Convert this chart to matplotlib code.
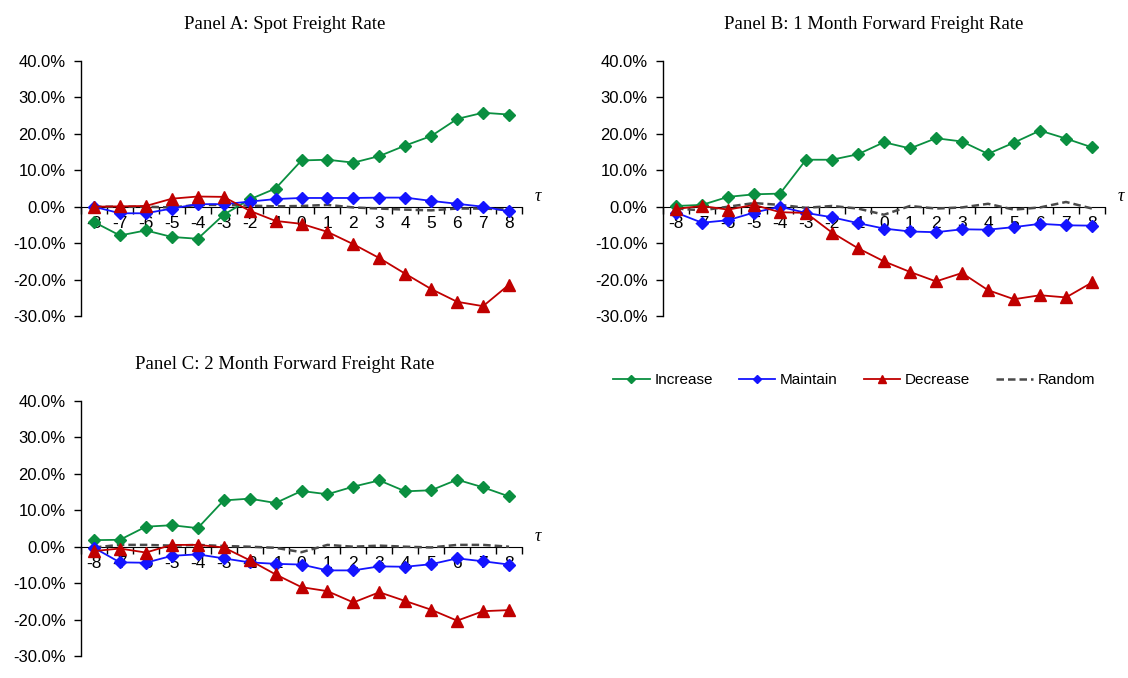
import matplotlib
matplotlib.use("Agg")
import matplotlib.pyplot as plt
from matplotlib.ticker import FixedLocator, PercentFormatter

# event window
tau = list(range(-8, 9))
tau_labels = [str(t) for t in tau]

# Panel A: spot freight rate (%)
spot_increase = [-4.2, -7.9, -6.5, -8.3, -8.8, -2.2, 2.0, 5.0, 12.7, 12.9, 12.1, 13.9, 16.8, 19.4, 24.1, 25.8, 25.3]
spot_maintain = [0.0, -1.8, -1.8, -0.5, 0.7, 0.7, 1.4, 2.1, 2.4, 2.4, 2.4, 2.5, 2.5, 1.6, 0.8, 0.0, -1.3]
spot_decrease = [0.0, 0.1, 0.2, 2.2, 2.8, 2.7, -1.1, -3.9, -4.7, -6.9, -10.3, -14.1, -18.4, -22.6, -26.1, -27.3, -21.4]
spot_random = [0.0, 0.0, 0.0, -0.2, 0.5, 0.5, 0.3, 0.1, 0.2, 0.5, -0.2, -0.5, -0.8, -1.0, -0.5, -0.5, -0.8]

# Panel B: 1 month forward freight rate (%)
fwd1_increase = [0.2, 0.5, 2.7, 3.4, 3.6, 12.9, 12.9, 14.4, 17.7, 16.0, 18.8, 17.9, 14.5, 17.6, 20.9, 18.7, 16.3]
fwd1_maintain = [-1.6, -4.4, -3.7, -1.6, 0.0, -1.7, -2.9, -4.5, -6.0, -6.8, -7.0, -6.2, -6.3, -5.6, -4.7, -5.1, -5.2]
fwd1_decrease = [-0.6, 0.2, -0.8, 0.5, -1.5, -1.7, -7.1, -11.4, -15.0, -17.9, -20.5, -18.2, -22.9, -25.4, -24.3, -24.9, -20.8]
fwd1_random = [-0.5, -1.0, 0.0, 1.0, 0.5, -0.3, 0.2, -0.5, -2.2, 0.2, -0.5, -0.2, 0.8, -0.8, -0.2, 1.3, -0.5]

# Panel C: 2 month forward freight rate (%)
fwd2_increase = [1.8, 1.9, 5.5, 5.9, 5.1, 12.7, 13.2, 12.0, 15.3, 14.4, 16.5, 18.2, 15.2, 15.5, 18.4, 16.3, 13.8]
fwd2_maintain = [-0.3, -4.3, -4.4, -2.5, -2.1, -3.2, -4.3, -4.7, -4.9, -6.5, -6.5, -5.4, -5.5, -4.8, -3.2, -4.0, -4.9]
fwd2_decrease = [-1.2, -0.5, -1.6, 0.5, 0.5, -0.2, -3.7, -7.6, -11.1, -12.2, -15.3, -12.5, -14.9, -17.3, -20.3, -17.7, -17.4]
fwd2_random = [-0.2, 0.5, 0.5, 0.3, 0.5, 0.2, 0.0, -0.3, -1.5, 0.5, 0.0, 0.3, 0.0, -0.2, 0.5, 0.5, 0.0]

titles = ["Panel A: Spot Freight Rate",
          "Panel B: 1 Month Forward Freight Rate",
          "Panel C: 2 Month Forward Freight Rate"]
panels = [
    (spot_increase, spot_maintain, spot_decrease, spot_random),
    (fwd1_increase, fwd1_maintain, fwd1_decrease, fwd1_random),
    (fwd2_increase, fwd2_maintain, fwd2_decrease, fwd2_random),
]

GREEN = "#0a8f40"
BLUE = "#1414ff"
RED = "#c00000"
GREY = "#4a4a4a"

plt.rcParams["font.family"] = ["Liberation Sans", "DejaVu Sans"]
plt.rcParams["axes.unicode_minus"] = False

W, H = 1128, 678
fig = plt.figure(figsize=(W / 100, H / 100), dpi=100)

# axes boxes in pixels: (left, right, top, bottom) and title centre x
boxes = [(81, 522, 61, 316), (663, 1105, 61, 316), (81, 522, 401, 656)]
title_x = [285, 874, 285]

for box, tx, title, data in zip(boxes, title_x, titles, panels):
    l, r, t, b = box
    ax = fig.add_axes([l / W, 1 - b / H, (r - l) / W, (b - t) / H])
    inc, mai, dec, rnd = data

    ax.plot(tau, rnd, color=GREY, lw=1.8, ls=(0, (3, 1.6)), label="Random", zorder=2)
    ax.plot(tau, inc, color=GREEN, lw=1.3, marker="D", ms=6, label="Increase", zorder=3)
    ax.plot(tau, mai, color=BLUE, lw=1.3, marker="D", ms=6, label="Maintain", zorder=3)
    ax.plot(tau, dec, color=RED, lw=1.3, marker="^", ms=8.5, label="Decrease", zorder=3)

    ax.set_xlim(-8.5, 8.5)
    ax.set_ylim(-30, 40)

    for s in ["top", "right"]:
        ax.spines[s].set_visible(False)
    ax.spines["bottom"].set_position(("data", 0))
    ax.spines["bottom"].set_zorder(1)
    ax.spines["left"].set_linewidth(1.0)

    # ticks between categories, labels on the categories
    ax.xaxis.set_major_locator(FixedLocator([t + 0.5 for t in range(-9, 9)]))
    ax.xaxis.set_minor_locator(FixedLocator(tau))
    ax.xaxis.set_major_formatter(plt.NullFormatter())
    ax.set_xticklabels(tau_labels, minor=True)
    ax.tick_params(axis="x", which="major", direction="out", length=5, width=1)
    ax.tick_params(axis="x", which="minor", length=0, pad=7, labelsize=12.5)

    ax.set_yticks(range(-30, 41, 10))
    ax.yaxis.set_major_formatter(PercentFormatter(decimals=1))
    ax.tick_params(axis="y", direction="out", length=5, width=1, labelsize=12, pad=6)

    ax.set_title(title, family=["Liberation Serif", "DejaVu Serif"], fontsize=13.5,
                 pad=23, x=(tx - l) / (r - l))
    ax.annotate("τ", xy=(8.5, 0), xytext=(9, 1), textcoords="offset points",
                fontsize=13, style="italic", family=["Liberation Serif", "DejaVu Serif"],
                va="bottom", ha="left")

handles, labels = ax.get_legend_handles_labels()
order = [1, 2, 3, 0]
fig.legend([handles[i] for i in order], [labels[i] for i in order],
           loc="center", bbox_to_anchor=(854 / W, 1 - 380 / H), ncol=4,
           frameon=False, fontsize=11, handlelength=2.4, columnspacing=1.7,
           handletextpad=0.3, markerscale=0.7)

fig.savefig("out.png", dpi=100)
